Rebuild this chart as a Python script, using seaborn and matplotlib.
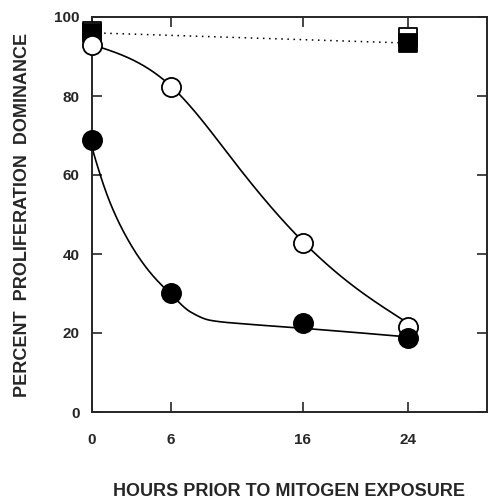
import numpy as np
import pandas as pd
import seaborn as sns
import matplotlib
matplotlib.use("Agg")
import matplotlib.pyplot as plt

# data
hours = [0, 6, 16, 24]
open_circles = [93.0, 82.3, 42.8, 21.5]
filled_circles = [68.9, 30.1, 22.5, 18.7]
sq_hours = [0, 24]
open_squares = [96.5, 94.9]
filled_squares = [96.0, 93.4]

# smooth fitted curves (knots)
open_fit_x = [0, 3, 6, 11, 16, 20, 24]
open_fit_y = [93.0, 89.3, 82.5, 62.5, 43.2, 31.5, 22.5]
filled_fit_x = [0, 1.5, 3.2, 4.5, 6, 7.5, 9, 12, 16, 24]
filled_fit_y = [67.0, 52.0, 41.0, 35.0, 29.8, 25.3, 23.2, 22.2, 21.2, 19.0]

x_ticks = [0, 6, 16, 24]
y_ticks = [0, 20, 40, 60, 80, 100]


def hermite(x, y, d, xs):
    h = np.diff(x)
    out = np.empty_like(xs)
    for i, xv in enumerate(xs):
        k = min(np.searchsorted(x, xv, side="right") - 1, len(x) - 2)
        t = (xv - x[k]) / h[k]
        out[i] = ((2 * t**3 - 3 * t**2 + 1) * y[k] + (t**3 - 2 * t**2 + t) * h[k] * d[k]
                  + (-2 * t**3 + 3 * t**2) * y[k + 1] + (t**3 - t**2) * h[k] * d[k + 1])
    return out


def pchip(x, y, xs):
    x = np.asarray(x, float)
    y = np.asarray(y, float)
    h = np.diff(x)
    dl = np.diff(y) / h
    n = len(x)
    d = np.zeros(n)
    for k in range(1, n - 1):
        if dl[k - 1] * dl[k] > 0:
            w1 = 2 * h[k] + h[k - 1]
            w2 = h[k] + 2 * h[k - 1]
            d[k] = (w1 + w2) / (w1 / dl[k - 1] + w2 / dl[k])
    d[0] = ((2 * h[0] + h[1]) * dl[0] - h[0] * dl[1]) / (h[0] + h[1])
    d[-1] = ((2 * h[-1] + h[-2]) * dl[-1] - h[-1] * dl[-2]) / (h[-1] + h[-2])
    return hermite(x, y, d, xs)


def spline(x, y, xs):
    # natural cubic spline
    x = np.asarray(x, float)
    y = np.asarray(y, float)
    n = len(x)
    h = np.diff(x)
    A = np.zeros((n, n))
    b = np.zeros(n)
    A[0, 0] = A[-1, -1] = 1
    for k in range(1, n - 1):
        A[k, k - 1] = h[k - 1]
        A[k, k] = 2 * (h[k - 1] + h[k])
        A[k, k + 1] = h[k]
        b[k] = 6 * ((y[k + 1] - y[k]) / h[k] - (y[k] - y[k - 1]) / h[k - 1])
    M = np.linalg.solve(A, b)
    out = np.empty_like(xs)
    for i, xv in enumerate(xs):
        k = min(np.searchsorted(x, xv, side="right") - 1, n - 2)
        a, c = x[k + 1] - xv, xv - x[k]
        out[i] = (M[k] * a**3 + M[k + 1] * c**3) / (6 * h[k]) \
            + (y[k] / h[k] - M[k] * h[k] / 6) * a + (y[k + 1] / h[k] - M[k + 1] * h[k] / 6) * c
    return out


sns.set_style("ticks")
plt.rcParams['font.family'] = ['Liberation Sans', 'DejaVu Sans']

fig = plt.figure(figsize=(4.89, 5.0), dpi=100)
ax = fig.add_axes([0.188, 0.176, 0.808, 0.790])

xs = np.linspace(0, 24, 300)
sns.lineplot(x=xs, y=spline(open_fit_x, open_fit_y, xs), color="black", lw=1.2, ax=ax)
sns.lineplot(x=xs, y=pchip(filled_fit_x, filled_fit_y, xs), color="black", lw=1.2, ax=ax)
sns.lineplot(x=sq_hours, y=filled_squares, color="black", lw=1.1,
             linestyle=(0, (1, 3)), ax=ax)

marks = [
    (sq_hours, open_squares, "s", 170, "white", 4),
    (sq_hours, filled_squares, "s", 170, "black", 5),
    (hours, open_circles, "o", 190, "white", 6),
    (hours, filled_circles, "o", 190, "black", 6),
]
for xv, yv, m, s, c, z in marks:
    sns.scatterplot(x=xv, y=yv, marker=m, s=s, color=c, edgecolor="black",
                    linewidth=1.3, zorder=z, clip_on=False, ax=ax)

ax.set_xlim(0, 30)
ax.set_ylim(0, 100)
ax.set_xticks(x_ticks)
ax.set_yticks(y_ticks)
ax.set_xticklabels([str(v) for v in x_ticks], fontweight="bold", fontsize=11)
ax.set_yticklabels([str(v) for v in y_ticks], fontweight="bold", fontsize=11)
ax.tick_params(axis="both", direction="in", length=7, width=1.2,
               top=True, right=True)
ax.tick_params(axis="x", pad=15)
ax.tick_params(axis="y", pad=9)
for sp in ax.spines.values():
    sp.set_linewidth(1.4)
    sp.set_visible(True)

ax.set_xlabel("HOURS PRIOR TO MITOGEN EXPOSURE", fontweight="bold", fontsize=13)
ax.xaxis.set_label_coords(0.5, -0.18)
ax.set_ylabel("PERCENT  PROLIFERATION  DOMINANCE", fontweight="bold", fontsize=13)
ax.yaxis.set_label_coords(-0.155, 0.5)

fig.savefig("out.png", dpi=100)
